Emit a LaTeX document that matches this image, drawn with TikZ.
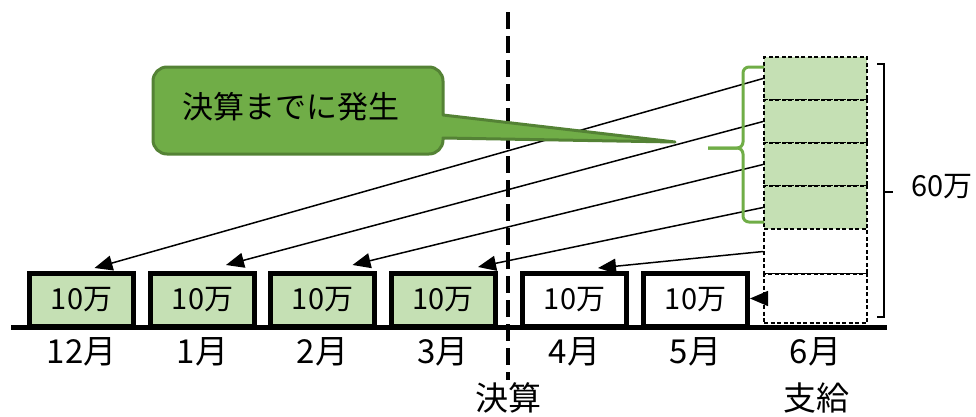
\documentclass[tikz,border=0pt]{standalone}
\usepackage{fontspec}
\setmainfont{Noto Sans CJK JP}
\usetikzlibrary{arrows.meta,calc}
\definecolor{lgreen}{HTML}{C5E0B4}
\definecolor{mgreen}{HTML}{70AD47}
\definecolor{dgreen}{HTML}{548235}
\begin{document}
\begin{tikzpicture}[x=1pt,y=-1pt,
 month/.style={draw=black,line width=5pt,minimum width=104pt,minimum height=53pt,inner sep=0pt,font=\fontsize{29}{29}\selectfont},
 done/.style={month,fill=lgreen},
 lab/.style={font=\fontsize{33}{33}\selectfont,inner sep=0pt},
 row/.style={draw=black,line width=1.8pt,dash pattern=on 4pt off 2.5pt,minimum width=103pt,inner sep=0pt},
 arr/.style={line width=1.5pt,-{Triangle[length=18pt,width=15pt]}},
 brace/.style={draw=mgreen,line width=3pt,rounded corners=6pt},
]
\useasboundingbox (0,0) rectangle (976,416);
% stack of six months
\node[row,fill=lgreen,minimum height=43pt] (r1) at (815.5,78.5) {};
\node[row,fill=lgreen,minimum height=43pt] (r2) at (815.5,121.5) {};
\node[row,fill=lgreen,minimum height=43pt] (r3) at (815.5,164.5) {};
\node[row,fill=lgreen,minimum height=43pt] (r4) at (815.5,207.5) {};
\node[row,fill=white,minimum height=45pt] (r5) at (815.5,251.5) {};
\node[row,fill=white,minimum height=49pt] (r6) at (815.5,298.5) {};
% month boxes
\node[done] (b1) at (81.5,300) {\raisebox{-3pt}{10万}};
\node[done] (b2) at (202.5,300) {\raisebox{-3pt}{10万}};
\node[done] (b3) at (322.5,300) {\raisebox{-3pt}{10万}};
\node[done] (b4) at (443,300) {\raisebox{-3pt}{10万}};
\node[month,fill=white] (b5) at (574.5,300) {\raisebox{-3pt}{10万}};
\node[month,fill=white] (b6) at (695.5,300) {\raisebox{-3pt}{10万}};
% baseline
\draw[line width=5pt] (11,327) -- (887,327);
% closing line
\draw[line width=4pt,dash pattern=on 17pt off 7pt] (508,12) -- (508,380);
% month labels
\node[lab] (m1) at (81.5,352) {12月};
\node[lab] (m2) at (202.5,352) {1月};
\node[lab] (m3) at (322.5,352) {2月};
\node[lab] (m4) at (443,352) {3月};
\node[lab] (m5) at (574.5,352) {4月};
\node[lab] (m6) at (695.5,352) {5月};
\node[lab] (m7) at (815.5,352) {6月};
\node[lab] (k1) at (508,398) {決算};
\node[lab] (k2) at (816.5,398) {支給};
% arrows
\draw[arr] (r1.west) -- ($(b1.north)+(13,-3)$);
\draw[arr] (r2.west) -- ($(b2.north)+(23.5,-6)$);
\draw[arr] (r3.west) -- ($(b3.north)+(30,-6)$);
\draw[arr] (r4.west) -- ($(b4.north)+(35,-4)$);
\draw[arr] (r5.west) -- ($(b5.north)+(23.5,-3)$);
\draw[arr] (r6.west) -- (r6.west -| b6.east);
% green brace
\draw[brace] (764,67) -- (743,67) -- (743,148) -- (708,148);
\draw[brace] (708,148) -- (743,148) -- (743,222) -- (764,222);
% right bracket
\draw[line width=1.5pt] (877,64) -- (884,64) -- (884,317) -- (877,317);
\draw[line width=1.5pt] (884,192) -- (893,192);
\node[font=\fontsize{29}{29}\selectfont,inner sep=0pt] (total) at (942,187) {60万};
% callout
\draw[fill=mgreen,draw=dgreen,line width=3pt,line join=round]
  (153,110) [rounded corners=14pt] |- (443,67) [sharp corners] -- (443,115)
  -- (675,142) -- (443,138) [rounded corners=14pt] |- (153,154) -- cycle;
\node[font=\fontsize{31}{31}\selectfont,inner sep=0pt] (callout) at (291,107) {決算までに発生};
\end{tikzpicture}
\end{document}
